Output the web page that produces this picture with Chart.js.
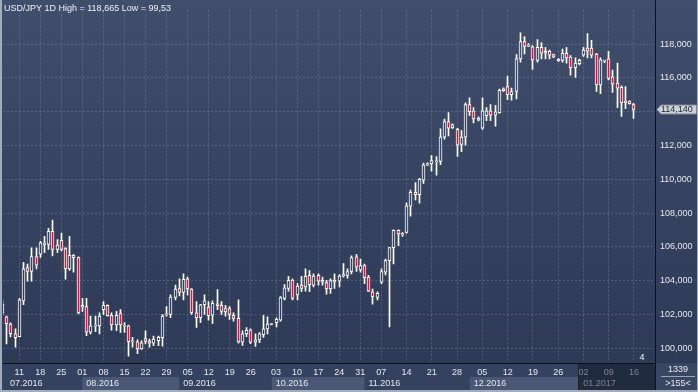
<!DOCTYPE html>
<html>
<head>
<meta charset="utf-8">
<script src="https://cdn.jsdelivr.net/npm/chart.js@4.4.1/dist/chart.umd.min.js"></script>
<style>
  html, body { margin: 0; padding: 0; background: #2e3a56; }
  #wrap { width: 698px; height: 392px; }
</style>
</head>
<body>
<div id="wrap"><canvas id="usdjpy" width="698" height="392"></canvas></div>
<script>
// daily bars, 05.07.2016 .. 16.01.2017 (bar index = position on the x axis)
var opens = [
  102.6, 101.85, 101.43, 100.85, 100.68, 102.8, 104.77, 104.54, 105.42, 105.56,
  106.14, 106.14, 106.91, 105.85, 106.39, 105.89, 104.69, 105.5, 105.37, 102.53,
  102.46, 100.95, 101.3, 101.32, 102.28, 102.53, 101.95, 101.37, 102.05, 101.3,
  101.32, 100.37, 100.37, 99.96, 100.56, 100.44, 100.29, 100.44, 100.62, 101.97,
  101.99, 103.0, 103.53, 103.3, 104.11, 103.5, 102.09, 101.8, 102.57, 102.43,
  101.95, 102.63, 102.53, 102.14, 102.34, 101.95, 101.76, 100.35, 100.84, 101.09,
  100.35, 100.49, 100.8, 101.14, 101.4, 101.51, 101.65, 102.95, 103.53, 104.02,
  103.15, 103.73, 103.63, 104.31, 103.73, 104.31, 103.9, 103.88, 103.5, 103.9,
  103.96, 104.29, 104.31, 104.54, 105.41, 104.63, 104.89, 104.21, 103.34, 103.01,
  103.9, 104.5, 105.18, 105.95, 106.97, 106.7, 106.85, 108.4, 109.23, 109.09,
  109.94, 110.85, 110.93, 111.03, 111.06, 112.5, 113.41, 113.06, 112.95, 112.06,
  112.5, 114.43, 114.05, 113.5, 113.02, 113.76, 114.05, 113.8, 113.95, 115.25,
  115.49, 115.01, 115.2, 117.13, 118.16, 117.88, 117.85, 117.04, 117.81, 117.46,
  117.58, 117.39, 117.03, 117.04, 117.46, 117.23, 116.61, 116.84, 117.35, 117.77,
  117.77, 117.42, 115.59, 117.0, 117.13, 116.07, 115.69, 115.44, 114.53, 114.63,
  114.43
];
var highs = [
  102.8, 101.9, 101.5, 101.14, 102.95, 105.08, 104.98, 105.94, 105.94, 106.33,
  106.62, 107.1, 107.58, 106.43, 106.81, 105.95, 106.62, 105.56, 105.4, 102.95,
  102.95, 101.9, 101.9, 102.09, 102.76, 102.57, 102.09, 102.18, 102.28, 101.51,
  101.36, 100.64, 100.49, 100.44, 101.03, 100.54, 100.72, 100.72, 101.99, 102.46,
  103.15, 103.73, 104.11, 104.4, 104.21, 103.53, 102.76, 102.6, 103.15, 102.76,
  102.8, 103.47, 102.76, 102.53, 102.46, 102.09, 102.86, 101.03, 101.22, 101.14,
  100.84, 100.92, 101.95, 101.85, 101.45, 101.8, 103.05, 103.76, 104.25, 104.11,
  103.82, 104.25, 104.69, 104.6, 104.4, 104.4, 104.21, 104.02, 104.11, 104.4,
  104.35, 105.0, 104.69, 105.47, 105.56, 105.27, 104.98, 104.31, 103.5, 103.34,
  104.7, 105.27, 105.97, 107.0, 107.0, 106.85, 108.6, 109.36, 109.81, 110.06,
  110.96, 110.98, 111.4, 111.35, 112.99, 113.57, 113.95, 113.28, 113.02, 112.89,
  114.53, 114.82, 114.24, 113.7, 114.82, 114.24, 114.43, 114.38, 115.34, 115.42,
  116.11, 115.4, 117.39, 118.665, 118.45, 118.04, 117.91, 118.27, 118.1, 117.81,
  117.65, 117.42, 117.15, 117.71, 117.81, 117.33, 117.19, 117.11, 117.81, 118.62,
  118.23, 117.46, 117.19, 117.06, 117.58, 116.46, 116.88, 115.53, 115.49, 114.65,
  114.49
];
var lows = [
  101.95, 100.25, 100.67, 100.06, 100.67, 102.57, 103.96, 103.96, 104.69, 105.37,
  105.66, 105.85, 105.46, 105.66, 105.75, 104.08, 104.6, 104.5, 102.03, 102.18,
  100.74, 100.84, 100.97, 100.84, 101.99, 101.9, 101.07, 101.03, 100.93, 100.93,
  99.53, 100.06, 99.67, 99.93, 100.25, 100.06, 100.14, 100.14, 100.12, 101.9,
  101.8, 102.86, 103.09, 102.86, 103.15, 101.99, 101.22, 101.51, 101.99, 101.65,
  101.45, 102.28, 101.99, 101.9, 101.7, 101.6, 100.3, 100.16, 100.68, 100.26,
  100.1, 100.33, 100.64, 100.84, 101.38, 101.26, 101.6, 102.86, 103.38, 102.86,
  102.86, 103.34, 103.38, 103.34, 103.63, 103.73, 103.73, 103.19, 103.24, 103.53,
  103.63, 104.21, 104.15, 104.4, 104.54, 104.5, 103.82, 103.34, 102.61, 102.86,
  103.82, 104.34, 101.26, 104.98, 106.07, 106.62, 106.81, 107.82, 108.78, 108.59,
  109.75, 110.8, 110.48, 110.25, 110.86, 112.37, 112.56, 112.99, 111.35, 111.63,
  112.02, 113.76, 113.34, 113.45, 112.95, 113.47, 113.47, 113.14, 113.91, 115.2,
  114.72, 114.68, 114.76, 116.94, 117.42, 117.85, 116.5, 116.94, 117.13, 117.13,
  117.13, 117.2, 116.98, 116.94, 116.88, 116.17, 116.03, 116.77, 117.27, 117.19,
  117.19, 115.2, 115.07, 116.9, 115.88, 115.15, 114.24, 113.72, 114.18, 114.45,
  113.6
];
var closes = [
  102.1, 101.45, 100.85, 100.62, 102.86, 104.69, 104.54, 105.42, 104.92, 106.24,
  106.24, 106.91, 105.85, 106.1, 105.85, 104.69, 105.5, 105.35, 102.09, 102.42,
  100.95, 101.32, 101.33, 101.9, 102.53, 101.93, 101.37, 101.95, 101.37, 101.35,
  100.39, 100.41, 99.96, 100.31, 100.4, 100.29, 100.54, 100.64, 101.9, 102.0,
  103.03, 103.5, 103.3, 104.08, 103.5, 102.09, 101.8, 102.57, 102.8, 101.93,
  102.65, 102.51, 102.18, 102.34, 101.99, 101.76, 100.37, 100.84, 101.07, 100.35,
  100.49, 100.84, 101.14, 101.43, 101.42, 101.7, 103.0, 103.57, 104.02, 102.95,
  103.67, 103.53, 104.25, 103.76, 104.27, 103.96, 104.02, 103.5, 104.0, 104.02,
  104.27, 104.32, 104.54, 105.37, 104.79, 104.89, 104.17, 103.38, 103.05, 103.24,
  104.54, 105.18, 105.95, 106.97, 106.77, 106.78, 108.42, 109.23, 109.09, 110.0,
  110.86, 110.92, 111.1, 111.08, 112.5, 113.41, 113.02, 113.22, 112.02, 112.5,
  114.43, 114.01, 113.57, 113.62, 114.05, 114.05, 113.8, 113.99, 115.26, 115.35,
  115.01, 115.2, 117.13, 118.16, 117.87, 117.92, 117.07, 117.81, 117.46, 117.58,
  117.35, 117.23, 117.1, 117.46, 117.19, 116.61, 116.88, 117.04, 117.65, 117.58,
  117.35, 115.59, 117.07, 117.06, 115.97, 115.65, 115.4, 114.53, 114.63, 114.47,
  114.14
];

// weekly ticks (mondays) and month bands, given as bar indexes
var dayTickBars = [4, 9, 14, 19, 24, 29, 34, 39, 44, 49, 54, 59, 65, 70, 75, 80, 85, 90, 96, 102, 108, 114, 120, 126, 132, 138, 144, 150];
var dayLabels = ['11', '18', '25', '01', '08', '15', '22', '29', '05', '12', '19', '26', '03', '10', '17', '24', '31', '07', '14', '21', '28', '05', '12', '19', '26', '02', '09', '16'];
var monthNames = ['07.2016', '08.2016', '09.2016', '10.2016', '11.2016', '12.2016', '01.2017'];
var monthStartBars = [0, 19, 42, 64, 86, 111, 137];
var priceTicks = [100, 102, 104, 106, 108, 110, 112, 114, 116, 118];
var shadeFromBar = 137;

var titleText = 'USD/JPY 1D High = 118,665 Low = 99,53';
var barsText = '1339';
var spreadText = '>155<';
var cornerMark = '4';

var FONT = '"Liberation Sans", Arial, sans-serif';
var RED = '#dc1438';
var TEXT = '#e4e8ee';
var GRID = 'rgba(150,165,190,0.32)';
var lastClose = closes[closes.length - 1];

function fmt(v) {
  return v.toFixed(3).replace('.', ',');
}

var bgGrad = null;
function gradient(chart) {
  if (!bgGrad) {
    bgGrad = chart.ctx.createLinearGradient(0, 0, 0, chart.height);
    bgGrad.addColorStop(0, '#404e6c');
    bgGrad.addColorStop(1, '#2c3854');
  }
  return bgGrad;
}

var bodies = [], wicks = [];
for (var i = 0; i < opens.length; i++) {
  bodies.push({ x: i, y: [opens[i], closes[i]], up: closes[i] >= opens[i] });
  wicks.push({ x: i, y: [lows[i], highs[i]] });
}

// background, axis strip and month bands
var frame = {
  id: 'frame',
  beforeDraw: function (chart) {
    var c = chart.ctx, a = chart.chartArea, W = chart.width, H = chart.height;
    var xs = chart.scales.x;
    c.save();
    c.fillStyle = gradient(chart);
    c.fillRect(0, 0, W, H);
    c.fillStyle = '#35425f';
    c.fillRect(0, a.bottom, W, H - a.bottom);

    c.font = '9px ' + FONT;
    c.textBaseline = 'middle';
    c.textAlign = 'left';
    for (var m = 0; m < monthNames.length; m++) {
      var x0 = Math.max(a.left, xs.getPixelForValue(monthStartBars[m]));
      var x1 = m + 1 < monthNames.length ? xs.getPixelForValue(monthStartBars[m + 1]) : a.right;
      if (m % 2 === 1) {
        c.fillStyle = '#4a5876';
        c.fillRect(x0, 377, x1 - x0, 13);
      }
      c.fillStyle = TEXT;
      c.fillText(monthNames[m], Math.max(x0 + 4, a.left + 7), 383.5);
    }
    c.restore();
  },
  afterDraw: function (chart) {
    var c = chart.ctx, a = chart.chartArea, W = chart.width, H = chart.height;
    var xs = chart.scales.x, ys = chart.scales.y;
    c.save();

    // current month shading on the date axis
    var sx = Math.round(xs.getPixelForValue(shadeFromBar - 0.25));
    c.fillStyle = 'rgba(14,20,34,0.5)';
    c.fillRect(sx, a.bottom + 1, a.right - sx, H - a.bottom - 3);
    c.fillStyle = '#1a2233';
    c.fillRect(sx, a.bottom + 1, 1, H - a.bottom - 3);

    // axis separators
    c.fillStyle = '#0d1119';
    c.fillRect(a.right, 0, 1, H - 2);

    // title
    c.font = '9px ' + FONT;
    c.fillStyle = '#eef1f5';
    c.textAlign = 'left';
    c.textBaseline = 'alphabetic';
    c.fillText(titleText, 4, 11);

    c.textBaseline = 'middle';
    c.textAlign = 'center';
    c.fillText(cornerMark, 642, 357.5);

    // bottom right box
    c.fillStyle = '#3a4763';
    c.fillRect(a.right + 1, a.bottom + 1, W - a.right - 2, H - a.bottom - 3);
    c.fillStyle = TEXT;
    c.fillText(barsText, 678, 370);
    c.fillText(spreadText, 678, 383.5);
    c.fillStyle = '#9aa3b2';
    c.fillRect(661, 376, 34, 1);

    // last price tag
    var py = Math.round(ys.getPixelForValue(lastClose)) + 0.5;
    c.beginPath();
    c.moveTo(a.right + 2, py);
    c.lineTo(a.right + 6, py - 4.5);
    c.lineTo(W - 1.5, py - 4.5);
    c.lineTo(W - 1.5, py + 4.5);
    c.lineTo(a.right + 6, py + 4.5);
    c.closePath();
    c.fillStyle = '#cdd1d8';
    c.fill();
    c.strokeStyle = '#7d8594';
    c.lineWidth = 1;
    c.stroke();
    c.fillStyle = '#1f2736';
    c.textAlign = 'left';
    c.fillText(fmt(lastClose).slice(0, 7), a.right + 6, py);

    // outer frame
    c.fillStyle = '#a3acba';
    c.fillRect(0, 0, 2, H);
    c.fillRect(0, H - 2, W, 2);
    c.fillRect(W - 1, 0, 1, H);
    c.restore();
  }
};

// put candles on whole pixels so wicks stay 1px sharp
var snap = {
  id: 'snap',
  beforeDatasetsDraw: function (chart) {
    chart.data.datasets.forEach(function (ds, d) {
      chart.getDatasetMeta(d).data.forEach(function (el) {
        el.x = Math.floor(el.x) + 0.5;
      });
    });
  }
};

new Chart(document.getElementById('usdjpy'), {
  type: 'bar',
  data: {
    datasets: [
      {
        label: 'body',
        data: bodies,
        grouped: false,
        clip: 0,
        barThickness: 3,
        minBarLength: 1,
        borderWidth: 1,
        borderSkipped: false,
        borderColor: '#ffffff',
        backgroundColor: function (ctx) {
          return ctx.raw && ctx.raw.up ? gradient(ctx.chart) : RED;
        }
      },
      {
        label: 'wick',
        data: wicks,
        grouped: false,
        clip: 0,
        barThickness: 1,
        borderWidth: 0,
        backgroundColor: '#ffffff'
      }
    ]
  },
  options: {
    responsive: false,
    animation: false,
    events: [],
    devicePixelRatio: 1,
    layout: { padding: { left: 3, top: 2, right: 0, bottom: 2 } },
    plugins: {
      legend: { display: false },
      tooltip: { enabled: false }
    },
    scales: {
      x: {
        type: 'linear',
        min: 0.15,
        max: 155,
        offset: false,
        grid: { offset: false, color: GRID, drawTicks: false },
        border: { display: true, color: '#0d1119', width: 1, dash: [2, 2] },
        afterBuildTicks: function (s) {
          s.ticks = dayTickBars.map(function (v) { return { value: v }; });
        },
        afterFit: function (s) { s.height = 27; },
        ticks: {
          autoSkip: false,
          maxRotation: 0,
          minRotation: 0,
          padding: 4,
          color: TEXT,
          font: { family: FONT, size: 9 },
          callback: function (v, i) { return dayLabels[i]; }
        }
      },
      y: {
        position: 'right',
        min: 99.12,
        max: 120.0,
        beginAtZero: false,
        grid: { color: GRID, drawTicks: false },
        border: { display: true, color: '#0d1119', width: 1, dash: [2, 2] },
        afterBuildTicks: function (s) {
          s.ticks = priceTicks.map(function (v) { return { value: v }; });
        },
        afterFit: function (s) { s.width = 43; },
        ticks: {
          padding: 5,
          color: TEXT,
          font: { family: FONT, size: 9 },
          callback: function (v) {
            return Math.abs(v - lastClose) < 0.6 ? '' : fmt(v);
          }
        }
      }
    }
  },
  plugins: [frame, snap]
});
</script>
</body>
</html>
